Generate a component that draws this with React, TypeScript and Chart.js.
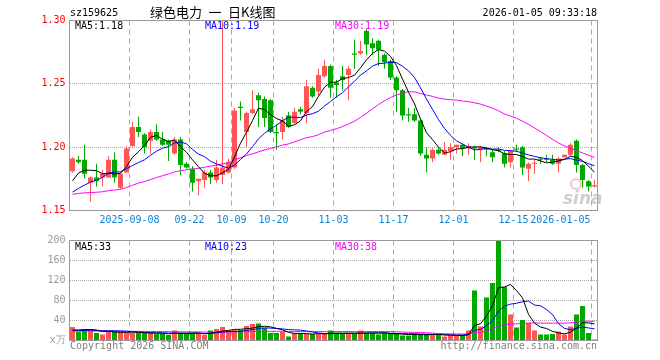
import { useEffect, useRef } from "react";
import { Chart, registerables } from "chart.js";

Chart.register(...registerables);

// ---------- data ----------
const dates: string[] = [
  "2025-08-25", "2025-08-26", "2025-08-27", "2025-08-28", "2025-08-29",
  "2025-09-01", "2025-09-02", "2025-09-03", "2025-09-04", "2025-09-05",
  "2025-09-08", "2025-09-09", "2025-09-10", "2025-09-11", "2025-09-12",
  "2025-09-15", "2025-09-16", "2025-09-17", "2025-09-18", "2025-09-19",
  "2025-09-22", "2025-09-23", "2025-09-24", "2025-09-25", "2025-09-26",
  "2025-09-29", "2025-09-30", "2025-10-09", "2025-10-10",
  "2025-10-13", "2025-10-14", "2025-10-15", "2025-10-16", "2025-10-17",
  "2025-10-20", "2025-10-21", "2025-10-22", "2025-10-23", "2025-10-24",
  "2025-10-27", "2025-10-28", "2025-10-29", "2025-10-30", "2025-10-31",
  "2025-11-03", "2025-11-04", "2025-11-05", "2025-11-06", "2025-11-07",
  "2025-11-10", "2025-11-11", "2025-11-12", "2025-11-13", "2025-11-14",
  "2025-11-17", "2025-11-18", "2025-11-19", "2025-11-20", "2025-11-21",
  "2025-11-24", "2025-11-25", "2025-11-26", "2025-11-27", "2025-11-28",
  "2025-12-01", "2025-12-02", "2025-12-03", "2025-12-04", "2025-12-05",
  "2025-12-08", "2025-12-09", "2025-12-10", "2025-12-11", "2025-12-12",
  "2025-12-15", "2025-12-16", "2025-12-17", "2025-12-18", "2025-12-19",
  "2025-12-22", "2025-12-23", "2025-12-24", "2025-12-25", "2025-12-26",
  "2025-12-29", "2025-12-30", "2025-12-31", "2026-01-05",
];

const opens: number[] = [
  1.181, 1.190, 1.190, 1.172, 1.176, 1.176, 1.176, 1.190, 1.168, 1.180,
  1.201, 1.216, 1.210, 1.205, 1.212, 1.206, 1.205, 1.195, 1.206, 1.187,
  1.183, 1.173, 1.174, 1.180, 1.174, 1.178, 1.180, 1.184, 1.232, 1.212,
  1.227, 1.241, 1.238, 1.237, 1.212, 1.212, 1.225, 1.219, 1.230, 1.227,
  1.247, 1.244, 1.256, 1.264, 1.251, 1.256, 1.257, 1.274, 1.274, 1.292,
  1.282, 1.284, 1.273, 1.268, 1.255, 1.245, 1.226, 1.226, 1.221, 1.194,
  1.191, 1.198, 1.194, 1.197, 1.200, 1.202, 1.199, 1.200, 1.198, 1.199,
  1.196, 1.198, 1.195, 1.188, 1.199, 1.200, 1.183, 1.187, 1.191, 1.191,
  1.190, 1.187, 1.192, 1.194, 1.205, 1.186, 1.173, 1.169,
];
const highs: number[] = [
  1.192, 1.193, 1.202, 1.177, 1.187, 1.182, 1.193, 1.196, 1.180, 1.201,
  1.220, 1.224, 1.211, 1.214, 1.218, 1.212, 1.206, 1.208, 1.208, 1.188,
  1.185, 1.175, 1.182, 1.182, 1.190, 1.300, 1.191, 1.231, 1.236, 1.228,
  1.245, 1.243, 1.240, 1.238, 1.218, 1.224, 1.228, 1.231, 1.232, 1.253,
  1.248, 1.262, 1.269, 1.265, 1.253, 1.264, 1.264, 1.285, 1.284, 1.293,
  1.286, 1.285, 1.274, 1.269, 1.256, 1.246, 1.231, 1.231, 1.222, 1.200,
  1.199, 1.200, 1.204, 1.203, 1.202, 1.203, 1.203, 1.201, 1.201, 1.200,
  1.198, 1.200, 1.197, 1.198, 1.202, 1.201, 1.188, 1.190, 1.192, 1.194,
  1.194, 1.192, 1.194, 1.203, 1.206, 1.187, 1.174, 1.174,
];
const lows: number[] = [
  1.180, 1.187, 1.175, 1.157, 1.169, 1.169, 1.176, 1.172, 1.167, 1.180,
  1.200, 1.208, 1.195, 1.195, 1.205, 1.201, 1.189, 1.194, 1.178, 1.183,
  1.165, 1.162, 1.168, 1.171, 1.172, 1.171, 1.179, 1.183, 1.221, 1.200,
  1.226, 1.216, 1.216, 1.211, 1.198, 1.206, 1.215, 1.218, 1.226, 1.219,
  1.239, 1.241, 1.255, 1.239, 1.239, 1.245, 1.237, 1.262, 1.273, 1.273,
  1.273, 1.264, 1.262, 1.253, 1.228, 1.221, 1.220, 1.220, 1.193, 1.180,
  1.188, 1.194, 1.194, 1.190, 1.195, 1.193, 1.194, 1.190, 1.188, 1.193,
  1.188, 1.196, 1.184, 1.184, 1.196, 1.178, 1.173, 1.179, 1.187, 1.188,
  1.186, 1.180, 1.192, 1.193, 1.180, 1.168, 1.165, 1.168,
];
const closes: number[] = [
  1.191, 1.188, 1.179, 1.176, 1.173, 1.179, 1.190, 1.176, 1.179, 1.199,
  1.216, 1.212, 1.200, 1.212, 1.206, 1.202, 1.202, 1.206, 1.186, 1.184,
  1.172, 1.175, 1.180, 1.176, 1.184, 1.184, 1.188, 1.229, 1.231, 1.227,
  1.230, 1.237, 1.223, 1.212, 1.211, 1.221, 1.216, 1.228, 1.228, 1.248,
  1.240, 1.257, 1.264, 1.247, 1.249, 1.253, 1.262, 1.273, 1.276, 1.281,
  1.278, 1.277, 1.267, 1.255, 1.245, 1.225, 1.225, 1.221, 1.195, 1.191,
  1.198, 1.195, 1.198, 1.200, 1.202, 1.199, 1.201, 1.199, 1.200, 1.198,
  1.192, 1.197, 1.187, 1.197, 1.198, 1.184, 1.187, 1.187, 1.190, 1.190,
  1.187, 1.191, 1.194, 1.202, 1.186, 1.174, 1.169, 1.170,
];
// volume, 万
const volumes: number[] = [
  27, 17, 23, 23, 15, 12, 18, 18, 18, 15,
  15, 15, 15, 15, 13, 13, 11, 20, 15, 13,
  15, 13, 11, 20, 23, 27, 20, 21, 21, 29,
  33, 34, 25, 15, 15, 18, 8, 15, 15, 13,
  13, 13, 13, 20, 15, 13, 13, 13, 20, 15,
  15, 12, 15, 13, 13, 10, 10, 13, 13, 12,
  12, 11, 8, 10, 10, 10, 20, 100, 28, 86,
  115, 200, 107, 52, 26, 41, 35, 20, 12, 12,
  13, 18, 12, 28, 52, 69, 15, 2,
];
// estimated values of the 29 sessions before the window (they shape the start of the MA lines)
const priorCloses: number[] = [
  1.168, 1.166, 1.170, 1.165, 1.167, 1.164, 1.162, 1.160, 1.158, 1.160,
  1.162, 1.165, 1.163, 1.160, 1.158, 1.161, 1.159, 1.157, 1.160, 1.155,
  1.158, 1.154, 1.152, 1.157, 1.157, 1.157, 1.168, 1.176, 1.175,
];
const priorVolumes: number[] = [
  20, 17, 19, 16, 22, 18, 15, 19, 21, 17,
  16, 18, 20, 19, 17, 15, 18, 22, 20, 16,
  18, 19, 17, 21, 18, 16, 20, 22, 20,
];

const tickDates: string[] = [
  "2025-09-08", "2025-09-22", "2025-10-09", "2025-10-20", "2025-11-03",
  "2025-11-17", "2025-12-01", "2025-12-15", "2026-01-05",
];
const tickTexts: string[] = [
  "2025-09-08", "09-22", "10-09", "10-20", "11-03", "11-17", "12-01", "12-15", "2026-01-05",
];
const priceTicks: number[] = [1.15, 1.2, 1.25, 1.3];
const volumeTicks: number[] = [0, 40, 80, 120, 160, 200];

const symbol = "sz159625";
const title = "绿色电力\u2002一\u2002日K线图";
const stamp = "2026-01-05 09:33:18";

// ---------- styles ----------
const RED = "#ff5555";
const GREEN = "#00a800";
const MA_COLORS = ["#000000", "#0000ff", "#ff00ff"];
const GRID = "#aaaaaa";
const FRAME = "#999999";
const DATE_COLOR = "#0a84d6";
const MONO = '"DejaVu Sans Mono", monospace';

function movingAvg(series: number[], prior: number[], n: number): number[] {
  const all = prior.concat(series);
  return series.map((_, i) => {
    const end = prior.length + i;
    let s = 0;
    for (let k = end - n + 1; k <= end; k++) s += all[k];
    return s / n;
  });
}

export default function App() {
  const priceRef = useRef<HTMLCanvasElement>(null);
  const volRef = useRef<HTMLCanvasElement>(null);

  useEffect(() => {
    const isUp = closes.map((c, i) => c >= opens[i]);
    const colors = isUp.map((u) => (u ? RED : GREEN));
    const pMA = [5, 10, 30].map((n) => movingAvg(closes, priorCloses, n));
    const vMA = [5, 10, 30].map((n) => movingAvg(volumes, priorVolumes, n));
    const tickIdx = new Set(tickDates.map((d) => dates.indexOf(d)));
    const last = closes.length - 1;

    const drawDates = (chart: any) => {
      const { ctx, scales } = chart;
      const x = scales.x;
      const half = (x.getPixelForValue(1) - x.getPixelForValue(0)) / 2;
      ctx.font = `10px ${MONO}`;
      ctx.fillStyle = DATE_COLOR;
      ctx.textBaseline = "middle";
      tickDates.forEach((d, k) => {
        const px = x.getPixelForValue(dates.indexOf(d)) - half;
        const isLast = k === tickDates.length - 1;
        ctx.textAlign = isLast ? "right" : "center";
        ctx.fillText(tickTexts[k], isLast ? px - 1 : px, 220);
      });
    };

    const frame = (chart: any) => {
      const { ctx, chartArea: a } = chart;
      ctx.strokeStyle = FRAME;
      ctx.lineWidth = 1;
      ctx.strokeRect(a.left, a.top, a.right - a.left, a.bottom - a.top);
    };

    const pricePlugin = {
      id: "priceDecor",
      afterDraw(chart: any) {
        const ctx = chart.ctx;
        ctx.save();
        frame(chart);
        drawDates(chart);
        ctx.textBaseline = "middle";
        ctx.textAlign = "left";
        ctx.font = `10px ${MONO}`;
        ctx.fillStyle = "#000";
        ctx.fillText(symbol, 70, 13);
        ctx.textAlign = "right";
        ctx.fillText(stamp, 597, 13);
        ctx.textAlign = "left";
        ctx.font = '13px "Noto Sans CJK SC", sans-serif';
        ctx.fillText(title, 150, 12);
        ctx.font = `10px ${MONO}`;
        const labX = [75, 205, 335];
        ["MA5", "MA10", "MA30"].forEach((nm, k) => {
          ctx.fillStyle = MA_COLORS[k];
          ctx.fillText(`${nm}:${pMA[k][last].toFixed(2)}`, labX[k], 26);
        });
        // sina watermark
        ctx.fillStyle = "rgba(190,190,190,0.75)";
        ctx.font = 'italic bold 17px "DejaVu Sans", sans-serif';
        ctx.fillText("sina", 563, 200);
        ctx.strokeStyle = "rgba(235,150,150,0.55)";
        ctx.lineWidth = 2;
        ctx.beginPath();
        ctx.arc(576, 184, 5, 0, Math.PI * 2);
        ctx.stroke();
        ctx.restore();
      },
    };

    const volPlugin = {
      id: "volDecor",
      afterDraw(chart: any) {
        const ctx = chart.ctx;
        ctx.save();
        frame(chart);
        ctx.textBaseline = "middle";
        ctx.textAlign = "left";
        ctx.font = `10px ${MONO}`;
        const labX = [75, 205, 335];
        ["MA5", "MA10", "MA30"].forEach((nm, k) => {
          ctx.fillStyle = MA_COLORS[k];
          ctx.fillText(`${nm}:${Math.round(vMA[k][last])}`, labX[k], 17);
        });
        ctx.fillStyle = "#808080";
        ctx.fillText("Copyright 2026 SINA.COM", 70, 116);
        ctx.textAlign = "right";
        ctx.fillText("http://finance.sina.com.cn", 597, 116);
        ctx.restore();
      },
    };

    const xScale = (): any => ({
      type: "category",
      offset: true,
      grid: {
        offset: true,
        drawTicks: false,
        lineWidth: 1,
        color: (c: any) => (tickIdx.has(c.index) ? GRID : "rgba(0,0,0,0)"),
      },
      border: { display: false, dash: [5, 4] },
      ticks: { display: false, autoSkip: false },
      afterFit: (s: any) => {
        s.height = 0;
      },
    });

    const lineDs = (data: number[], k: number): any => ({
      type: "line",
      data,
      borderColor: MA_COLORS[k],
      borderWidth: 1,
      pointRadius: 0,
      tension: 0,
      order: 0,
    });

    const priceChart = new Chart(priceRef.current as HTMLCanvasElement, {
      type: "bar",
      data: {
        labels: dates,
        datasets: [
          lineDs(pMA[0], 0),
          lineDs(pMA[1], 1),
          lineDs(pMA[2], 2),
          {
            type: "bar",
            data: opens.map((o, i) => [Math.min(o, closes[i]), Math.max(o, closes[i])]) as any,
            backgroundColor: colors,
            barThickness: 5,
            grouped: false,
            minBarLength: 1,
            inflateAmount: 0,
            order: 1,
          } as any,
          {
            type: "bar",
            data: lows.map((l, i) => [l, highs[i]]) as any,
            backgroundColor: colors,
            barThickness: 1,
            grouped: false,
            minBarLength: 1,
            inflateAmount: 0,
            order: 2,
          } as any,
        ],
      },
      options: {
        responsive: false,
        animation: false,
        devicePixelRatio: 1,
        events: [],
        layout: { padding: { left: 0, top: 20.5, right: 62.5, bottom: 19.5 } },
        plugins: { legend: { display: false }, tooltip: { enabled: false } },
        scales: {
          x: xScale(),
          y: {
            type: "linear",
            min: priceTicks[0],
            max: priceTicks[priceTicks.length - 1],
            afterBuildTicks: (s: any) => {
              s.ticks = priceTicks.map((v) => ({ value: v }));
            },
            ticks: {
              color: "#ff0000",
              font: { family: MONO, size: 10 },
              padding: 4,
              callback: (v: any) => Number(v).toFixed(2),
            },
            grid: {
              drawTicks: false,
              color: (c: any) =>
                c.tick && (Math.abs(c.tick.value - 1.15) < 1e-6 || Math.abs(c.tick.value - 1.3) < 1e-6)
                  ? "rgba(0,0,0,0)"
                  : GRID,
            },
            border: { display: false, dash: [1, 1] },
            afterFit: (s: any) => {
              s.width = 69.5;
            },
          } as any,
        },
      },
      plugins: [pricePlugin],
    });

    const volChart = new Chart(volRef.current as HTMLCanvasElement, {
      type: "bar",
      data: {
        labels: dates,
        datasets: [
          lineDs(vMA[0], 0),
          lineDs(vMA[1], 1),
          lineDs(vMA[2], 2),
          {
            type: "bar",
            data: volumes,
            backgroundColor: colors,
            barThickness: 5,
            grouped: false,
            inflateAmount: 0,
            order: 1,
          } as any,
        ],
      },
      options: {
        responsive: false,
        animation: false,
        devicePixelRatio: 1,
        events: [],
        layout: { padding: { left: 0, top: 10.5, right: 62.5, bottom: 19.5 } },
        plugins: { legend: { display: false }, tooltip: { enabled: false } },
        scales: {
          x: xScale(),
          y: {
            type: "linear",
            min: volumeTicks[0],
            max: volumeTicks[volumeTicks.length - 1],
            afterBuildTicks: (s: any) => {
              s.ticks = volumeTicks.map((v) => ({ value: v }));
            },
            ticks: {
              color: "#9a9a9a",
              font: { family: MONO, size: 10 },
              padding: 4,
              callback: (v: any) => (Number(v) === 0 ? "x万" : String(v)),
            },
            grid: {
              drawTicks: false,
              color: (c: any) =>
                c.tick && (c.tick.value === 0 || c.tick.value === 200) ? "rgba(0,0,0,0)" : GRID,
            },
            border: { display: false, dash: [1, 1] },
            afterFit: (s: any) => {
              s.width = 69.5;
            },
          } as any,
        },
      },
      plugins: [volPlugin],
    });

    return () => {
      priceChart.destroy();
      volChart.destroy();
    };
  }, []);

  return (
    <div style={{ position: "absolute", left: 0, top: 0, width: 660, height: 360, background: "#fff" }}>
      <canvas
        ref={priceRef}
        width={660}
        height={230}
        style={{ position: "absolute", left: 0, top: 0, display: "block" }}
      />
      <canvas
        ref={volRef}
        width={660}
        height={130}
        style={{ position: "absolute", left: 0, top: 230, display: "block" }}
      />
    </div>
  );
}
